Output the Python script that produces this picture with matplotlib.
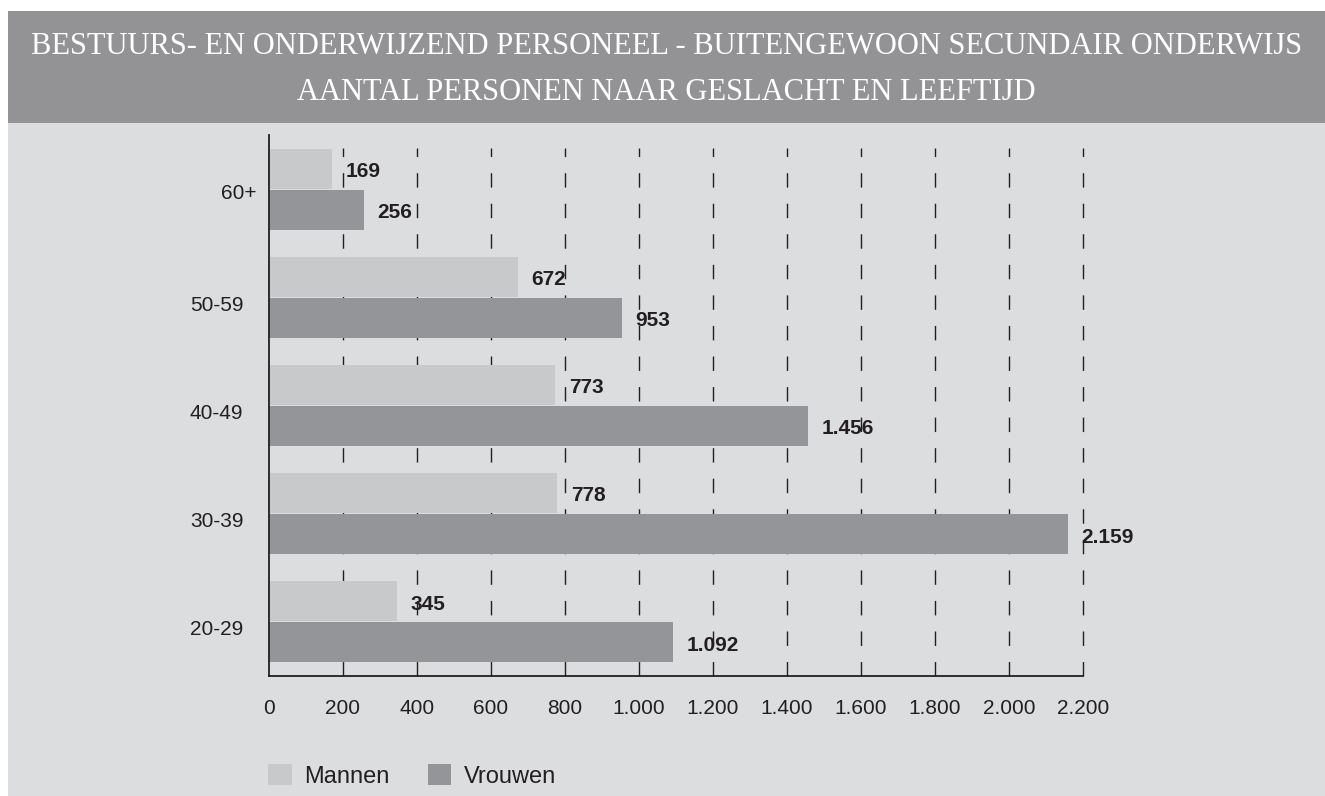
import matplotlib
matplotlib.use("Agg")
import matplotlib.pyplot as plt
from matplotlib.patches import Rectangle
from matplotlib.transforms import ScaledTranslation

categories = ["20-29", "30-39", "40-49", "50-59", "60+"]
mannen = [345, 778, 773, 672, 169]
vrouwen = [1092, 2159, 1456, 953, 256]
xticks = [0, 200, 400, 600, 800, 1000, 1200, 1400, 1600, 1800, 2000, 2200]
xtick_labels = ["0", "200", "400", "600", "800", "1.000", "1.200", "1.400",
                "1.600", "1.800", "2.000", "2.200"]
series_names = ["Mannen", "Vrouwen"]
title_lines = ["BESTUURS- EN ONDERWIJZEND PERSONEEL - BUITENGEWOON SECUNDAIR ONDERWIJS",
               "AANTAL PERSONEN NAAR GESLACHT EN LEEFTIJD"]

def fmt(v):
    return f"{v:,}".replace(",", ".")

W, H = 1325, 796
fig = plt.figure(figsize=(W / 100, H / 100), dpi=100)
fig.patch.set_facecolor("white")

BG = "#dcdddf"
BAR_TITLE = "#939396"
C_M = "#c8c9cb"
C_V = "#949598"
TXT = "#231f20"

# background panels
fig.patches.append(Rectangle((8 / W, 0), 1 - 8 / W, 1 - 11 / H, transform=fig.transFigure,
                             facecolor=BG, edgecolor="none", zorder=-10))
fig.patches.append(Rectangle((8 / W, 1 - 123 / H), 1 - 8 / W, (123 - 11) / H,
                             transform=fig.transFigure, facecolor=BAR_TITLE,
                             edgecolor="none", zorder=-9))
fig.text(0.5 + 4 / W, 1 - 47 / H, title_lines[0], ha="center", va="center",
         color="white", fontsize=22, family="Liberation Serif")
fig.text(0.5 + 4 / W, 1 - 92 / H, title_lines[1], ha="center", va="center",
         color="white", fontsize=22, family="Liberation Serif")

left, right = 269 / W, 1083 / W
bottom, top = 1 - 676 / H, 1 - 135 / H
ax = fig.add_axes([left, bottom, right - left, top - bottom])
ax.set_facecolor("none")

y = list(range(len(categories)))
h = 0.37
off = 0.19
ym = [v + off for v in y]
yv = [v - off for v in y]

ax.set_xlim(0, 2200)
ax.set_ylim(-0.5, 4.5)

# dashed gridlines
for xt in xticks[1:]:
    ax.plot([xt, xt], [-0.5, 4.38], color=TXT, lw=1.0,
            linestyle=(0, (10.4, 11.6)), zorder=1, clip_on=False)

ax.barh(ym, mannen, height=h, color=C_M, zorder=2, label=series_names[0])
ax.barh(yv, vrouwen, height=h, color=C_V, zorder=2, label=series_names[1])

for yy, v in zip(ym, mannen):
    ax.annotate(fmt(v), (v, yy), xytext=(10, -2), textcoords="offset points",
                ha="left", va="center", fontsize=15, fontweight="bold",
                color=TXT, family="Liberation Sans", zorder=3)
for yy, v in zip(yv, vrouwen):
    ax.annotate(fmt(v), (v, yy), xytext=(10, -2), textcoords="offset points",
                ha="left", va="center", fontsize=15, fontweight="bold",
                color=TXT, family="Liberation Sans", zorder=3)

for s in ["top", "right"]:
    ax.spines[s].set_visible(False)
ax.spines["left"].set_color(TXT)
ax.spines["left"].set_linewidth(1.3)
ax.spines["bottom"].set_color(TXT)
ax.spines["bottom"].set_linewidth(1.3)

ax.set_xticks(xticks)
ax.set_xticklabels(xtick_labels, family="Liberation Sans", fontsize=15, color=TXT)
ax.set_yticks(y)
ax.set_yticklabels(categories, family="Liberation Sans", fontsize=15, color=TXT)
ax.tick_params(axis="x", length=0, pad=16.5)
ax.tick_params(axis="y", length=0, pad=18.5)

# small per-label shifts as in the original layout
for lab in ax.get_yticklabels():
    if lab.get_text() == "60+":
        dx, dy = 13 / 100, -2 / 100
    else:
        dx, dy = 0, -6 / 100
    lab.set_transform(lab.get_transform() + ScaledTranslation(dx, dy, fig.dpi_scale_trans))

# legend
leg = fig.legend(handles=[ax.patches[0], ax.patches[len(categories)]],
                 labels=series_names, loc="center left",
                 bbox_to_anchor=(268 / W, 1 - 776 / H), ncol=2, frameon=False,
                 prop={"family": "Liberation Sans", "size": 17}, handlelength=1.0,
                 handleheight=1.0, handletextpad=0.55, columnspacing=1.6,
                 borderaxespad=0, borderpad=0)
for t in leg.get_texts():
    t.set_color(TXT)

fig.savefig("out.png", dpi=100, facecolor=fig.get_facecolor())
